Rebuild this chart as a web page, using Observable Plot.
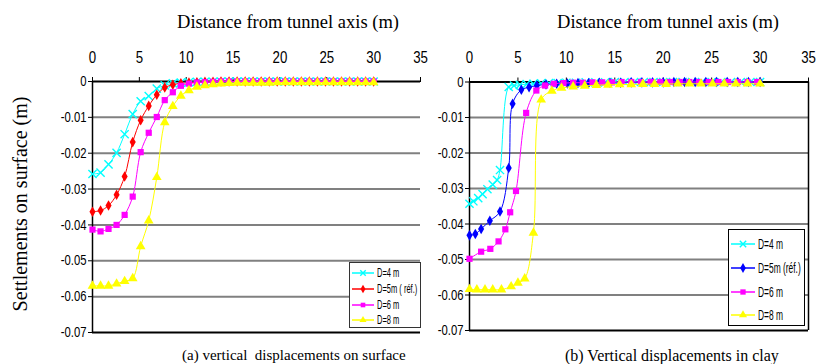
<!DOCTYPE html>
<html><head><meta charset="utf-8">
<script src="https://cdn.jsdelivr.net/npm/d3@7"></script>
<script src="https://cdn.jsdelivr.net/npm/@observablehq/plot@0.6"></script>
<style>
body{margin:0;background:#fff;}
#wrap{position:relative;width:817px;height:364px;overflow:hidden;background:#fff;}
#wrap svg.plotsvg{position:absolute;top:0;}
.serif{position:absolute;font-family:"Liberation Serif","Times New Roman",serif;color:#000;white-space:pre;}
.leg{position:absolute;background:#fff;box-sizing:border-box;font-family:"Liberation Sans",Arial,sans-serif;color:#000;}
.leg .row{position:absolute;left:0;display:flex;align-items:center;white-space:nowrap;}
.leg .row span{display:inline-block;transform-origin:0 50%;}
</style></head><body><div id="wrap"></div>
<script>
// ---------- data ----------
const xTickVals = [0, 5, 10, 15, 20, 25, 30, 35];
const xTickLabels = ["0", "5", "10", "15", "20", "25", "30", "35"];
const yTickVals = [0, -0.01, -0.02, -0.03, -0.04, -0.05, -0.06, -0.07];
const yTickLabels = ["0", "-0.01", "-0.02", "-0.03", "-0.04", "-0.05", "-0.06", "-0.07"];

const xTitle = "Distance from tunnel axis (m)";
const yTitle = "Settlements on surface (m)";
const captionA = "(a) vertical  displacements on surface";
const captionB = "(b) Vertical displacements in clay";

const namesA = ["D=4 m", "D=5m ( réf.)", "D=6 m", "D=8 m"];
const namesB = ["D=4 m", "D=5m (réf.)", "D=6 m", "D=8 m"];

// (a) surface
const xA = [0, 0.86, 1.71, 2.57, 3.43, 4.29, 5.14, 6.0, 6.86, 7.71, 8.57, 9.43, 10.29, 11.14, 12.0, 12.86, 13.71, 14.57, 15.43, 16.29, 17.14, 18.0, 18.86, 19.71, 20.57, 21.43, 22.29, 23.14, 24.0, 24.86, 25.71, 26.57, 27.43, 28.29, 29.14, 30.0];
const yA4 = [-0.0258, -0.0254, -0.0231, -0.0199, -0.0147, -0.0091, -0.0055, -0.0041, -0.0020, -0.0011, -0.0005, -0.0003, -0.0002, -0.0001, -0.0001, -0.0001, 0, 0, 0, 0, 0, 0, 0, 0, 0, 0, 0, 0, 0, 0, 0, 0, 0, 0, 0, 0];
const yA5 = [-0.0363, -0.0360, -0.0346, -0.0316, -0.0265, -0.0169, -0.0108, -0.0068, -0.0037, -0.0017, -0.0009, -0.0005, -0.0003, -0.0002, -0.0001, -0.0001, 0, 0, 0, 0, 0, 0, 0, 0, 0, 0, 0, 0, 0, 0, 0, 0, 0, 0, 0, 0];
const yA6 = [-0.0413, -0.0418, -0.0411, -0.0400, -0.0372, -0.0321, -0.0197, -0.0143, -0.0099, -0.0052, -0.0030, -0.0012, -0.0006, -0.0003, -0.0002, -0.0001, 0, 0, 0, 0, 0, 0, 0, 0, 0, 0, 0, 0, 0, 0, 0, 0, 0, 0, 0, 0];
const yA8 = [-0.0570, -0.0570, -0.0570, -0.0564, -0.0557, -0.0549, -0.0460, -0.0388, -0.0267, -0.0114, -0.0069, -0.0040, -0.0025, -0.0015, -0.0011, -0.0008, -0.0006, -0.0005, -0.0004, -0.0004, -0.0004, -0.0004, -0.0004, -0.0003, -0.0003, -0.0003, -0.0003, -0.0003, -0.0003, -0.0003, -0.0003, -0.0003, -0.0003, -0.0003, -0.0003, -0.0003];

// (b) clay
const xB4 = [0, 0.4, 0.9, 1.35, 1.85, 2.4, 2.85, 3.15, 4.05, 4.6, 5.2, 5.9, 6.6, 7.4, 8.2, 9.1, 10.0, 11.0, 12.0, 13.0, 14.0, 15.0, 16.0, 17.0, 18.0, 19.0, 20.0, 21.0, 22.0, 23.0, 24.0, 25.0, 26.0, 27.0, 28.0, 29.0, 30.0];
const yB4 = [-0.0343, -0.0336, -0.0327, -0.0316, -0.0302, -0.0289, -0.0276, -0.0248, -0.0014, -0.0010, -0.0008, -0.0006, -0.0005, -0.0004, -0.0003, -0.0003, -0.0002, -0.0002, -0.0001, -0.0001, -0.0001, 0, 0, 0, 0, 0, 0, 0, 0, 0, 0, 0, 0, 0, 0, 0, 0];
const xB5 = [0, 0.6, 1.2, 2.1, 3.15, 4.05, 4.45, 5.35, 6.15, 6.95, 7.9, 9.0, 10.1, 11.2, 12.3, 13.4, 14.5, 15.6, 16.7, 17.8, 18.9, 20.0, 21.1, 22.2, 23.3, 24.4, 25.5, 26.6, 27.7, 28.8, 30.0];
const yB5 = [-0.0432, -0.0428, -0.0414, -0.0391, -0.0365, -0.0242, -0.0061, -0.0022, -0.0015, -0.0010, -0.0007, -0.0005, -0.0004, -0.0003, -0.0003, -0.0002, -0.0002, -0.0002, -0.0001, -0.0001, -0.0001, -0.0001, 0, 0, 0, 0, 0, 0, 0, 0, 0];
const xB6 = [0, 1.2, 2.15, 3.0, 3.7, 4.2, 4.8, 5.85, 6.9, 7.8, 8.7, 9.7, 10.7, 11.7, 12.7, 13.7, 14.7, 15.7, 16.7, 17.7, 18.7, 19.7, 20.7, 21.7, 22.7, 23.7, 24.7, 25.7, 26.7, 27.7, 28.7, 29.7];
const yB6 = [-0.0498, -0.0478, -0.0470, -0.0449, -0.0415, -0.0367, -0.0307, -0.0087, -0.0024, -0.0010, -0.0005, -0.0003, -0.0002, -0.0002, -0.0001, -0.0001, -0.0001, 0, 0, 0, 0, 0, 0, 0, 0, 0, 0, 0, 0, 0, 0, 0];
const xB8 = [0, 0.76, 1.6, 2.4, 3.3, 4.3, 5.0, 5.7, 6.6, 7.4, 8.5, 9.5, 10.7, 11.9, 13.1, 14.3, 15.5, 16.7, 17.9, 19.1, 20.3, 21.5, 22.7, 23.9, 25.1, 26.3, 27.5, 28.7, 30.0];
const yB8 = [-0.0584, -0.0585, -0.0585, -0.0585, -0.0585, -0.0576, -0.0566, -0.0554, -0.0425, -0.0050, -0.0025, -0.0017, -0.0013, -0.0011, -0.0009, -0.0008, -0.0007, -0.0007, -0.0006, -0.0006, -0.0006, -0.0005, -0.0005, -0.0005, -0.0005, -0.0005, -0.0005, -0.0005, -0.0005];

// ---------- styles ----------
const SANS = '"Liberation Sans",Arial,sans-serif';
const symbolsUsed = ["times", "diamond", "square", "triangle"];
const d3Symbols = {times: d3.symbolTimes, diamond: d3.symbolDiamond, square: d3.symbolSquare, triangle: d3.symbolTriangle};
const radius = {times: 3.8, diamond: 3.2, square: 3.5, triangle: 3.6};
const colorsA = ["#00FFFF", "#FF0000", "#FF00FF", "#FFFF00"];
const colorsB = ["#00FFFF", "#0000FF", "#FF00FF", "#FFFF00"];

const rows = (xs, ys) => xs.map((x, i) => ({x, y: ys[i]}));
const fmtX = d => xTickLabels[xTickVals.indexOf(d)];
const fmtY = d => yTickLabels[yTickVals.findIndex(v => Math.abs(v - d) < 1e-9)];

const wrap = document.getElementById("wrap");

// narrow the axis tick labels (Arial Narrow look)
function condense(svg, s) {
  svg.querySelectorAll('g[aria-label*="tick label"] text').forEach(t => {
    const tr = t.getAttribute("transform");
    if (tr) {
      t.setAttribute("transform", tr + ` scale(${s},1)`);
    } else {
      const x = +(t.getAttribute("x") || 0), y = +(t.getAttribute("y") || 0);
      t.removeAttribute("x"); t.removeAttribute("y");
      t.setAttribute("transform", `translate(${x},${y}) scale(${s},1)`);
    }
  });
}

function makePanel(o) {
  const marks = [
    Plot.ruleY(yTickVals.filter(v => v < 0 && v > -0.07), {stroke: "#808080", strokeWidth: 2}),
    Plot.axisX({anchor: "top", ticks: xTickVals, tickFormat: fmtX, tickSize: 5, tickPadding: 14, fontSize: 17, fontFamily: SANS, label: null}),
    Plot.axisY({anchor: "left", ticks: yTickVals, tickFormat: fmtY, tickSize: 4, tickPadding: 2, fontSize: 14.5, fontFamily: SANS, label: null}),
    Plot.ruleY([0], {stroke: "#000", strokeWidth: 2}),
    Plot.ruleY([-0.07], {stroke: "#000", strokeWidth: 2}),
    Plot.ruleX([0], {stroke: "#000", strokeWidth: 1.5})
  ];
  if (o.rightBorder) marks.push(Plot.ruleX([35], {stroke: "#000", strokeWidth: 1.5}));
  o.series.forEach(s => {
    marks.push(Plot.line(s.data, {x: "x", y: "y", stroke: s.color, strokeWidth: 1, curve: "catmull-rom"}));
    const stroked = s.symbol === "times";
    marks.push(Plot.dot(s.data, {x: "x", y: "y", symbol: s.symbol, r: radius[s.symbol],
      fill: stroked ? "none" : s.color, stroke: stroked ? s.color : "none", strokeWidth: 1.4}));
  });
  const svg = Plot.plot({
    width: o.width, height: 340,
    marginTop: o.mt, marginBottom: o.mb, marginLeft: o.ml, marginRight: o.mr,
    x: {domain: [0, 35]}, y: {domain: [-0.07, 0]},
    style: {background: "transparent", overflow: "visible"},
    marks
  });
  svg.classList.add("plotsvg");
  svg.style.left = o.left + "px";
  condense(svg, 0.78);
  wrap.appendChild(svg);
}

function addText(cls, txt, css) {
  const d = document.createElement("div");
  d.className = cls; d.textContent = txt;
  Object.assign(d.style, css);
  wrap.appendChild(d);
  return d;
}

function makeLegend(o) {
  const box = d3.select(wrap).append("div").attr("class", "leg")
    .style("left", o.x + "px").style("top", o.y + "px")
    .style("width", o.w + "px").style("height", o.h + "px")
    .style("border", o.border).style("font-size", o.fs + "px");
  o.names.forEach((name, i) => {
    const row = box.append("div").attr("class", "row")
      .style("top", (o.first + i * o.step - 8) + "px").style("height", "16px");
    const svg = row.append("svg").attr("width", o.sw + 4).attr("height", 16).style("display", "block");
    svg.append("line").attr("x1", 2).attr("x2", o.sw + 2).attr("y1", 8).attr("y2", 8)
      .attr("stroke", o.colors[i]).attr("stroke-width", 1.5);
    const sym = symbolsUsed[i];
    const stroked = sym === "times";
    svg.append("path").attr("d", d3.symbol(d3Symbols[sym], Math.PI * o.mr * o.mr)())
      .attr("transform", `translate(${2 + o.sw / 2},8)`)
      .attr("fill", stroked ? "none" : o.colors[i])
      .attr("stroke", stroked ? o.colors[i] : "none").attr("stroke-width", 1.4);
    row.append("span").text(name).style("margin-left", o.gap + "px")
      .style("transform", `scaleX(${o.sx})`);
  });
}

// ---------- panels ----------
makePanel({
  left: 0, width: 430, ml: 92, mr: 10, mt: 81, mb: 8, rightBorder: false,
  series: [
    {data: rows(xA, yA4), color: colorsA[0], symbol: "times"},
    {data: rows(xA, yA5), color: colorsA[1], symbol: "diamond"},
    {data: rows(xA, yA6), color: colorsA[2], symbol: "square"},
    {data: rows(xA, yA8), color: colorsA[3], symbol: "triangle"}
  ]
});
makePanel({
  left: 410, width: 407, ml: 59, mr: 9, mt: 81.5, mb: 10, rightBorder: true,
  series: [
    {data: rows(xB4, yB4), color: colorsB[0], symbol: "times"},
    {data: rows(xB5, yB5), color: colorsB[1], symbol: "diamond"},
    {data: rows(xB6, yB6), color: colorsB[2], symbol: "square"},
    {data: rows(xB8, yB8), color: colorsB[3], symbol: "triangle"}
  ]
});

// ---------- texts ----------
addText("serif", xTitle, {left: "188px", top: "12.8px", width: "200px", fontSize: "18.5px", lineHeight: "18.5px", display: "flex", justifyContent: "center"});
addText("serif", xTitle, {left: "568px", top: "12.8px", width: "200px", fontSize: "18.5px", lineHeight: "18.5px", display: "flex", justifyContent: "center"});
addText("serif", yTitle, {left: "-130px", top: "194px", width: "300px", textAlign: "center", fontSize: "20px", lineHeight: "20px", transform: "rotate(-90deg)", transformOrigin: "150px 10px"});
addText("serif", captionA, {left: "182px", top: "348.4px", fontSize: "15px", lineHeight: "15px"});
addText("serif", captionB, {left: "565px", top: "347.6px", fontSize: "16px", lineHeight: "16px"});

// ---------- legends ----------
makeLegend({x: 349, y: 262, w: 72, h: 66, border: "1.5px solid #333", fs: 12.5, sx: 0.6, names: namesA, colors: colorsA,
  first: 9.7, step: 15.9, sw: 22, mr: 2.6, gap: 1});
makeLegend({x: 728, y: 229, w: 77, h: 97, border: "1.5px solid #000", fs: 14.5, sx: 0.58, names: namesB, colors: colorsB,
  first: 14.3, step: 23.6, sw: 24, mr: 3, gap: 1});
</script>
</body></html>
